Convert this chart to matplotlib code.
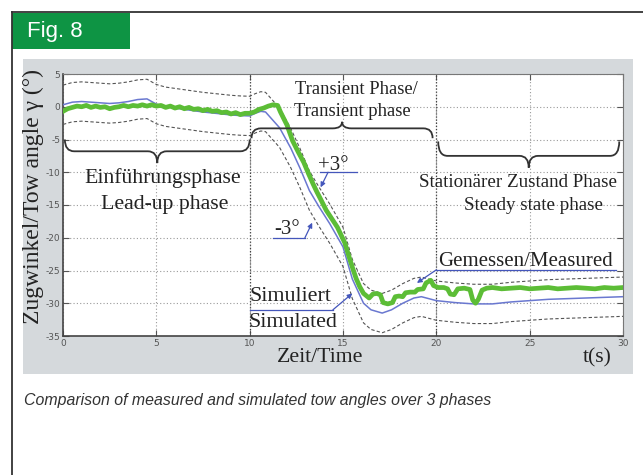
import matplotlib.pyplot as plt
import numpy as np
from matplotlib.patches import Rectangle, PathPatch
from matplotlib.path import Path
from matplotlib.lines import Line2D

plt.rcParams['axes.unicode_minus'] = False

# Simulated tow angle (blue)
sim_t = [0, 0.5, 1, 1.5, 2, 2.5, 3, 3.5, 4, 4.5, 5, 5.5, 6, 6.5, 7, 7.5, 8, 8.5, 9, 9.5,
         10, 10.3, 10.6, 10.85, 11.1, 11.6, 12.2, 12.7, 13.2, 13.7, 14.3, 15.0, 15.5, 16.1,
         16.5, 17.1, 17.6, 18.2, 18.8, 19.2, 19.6, 20, 21, 22, 23, 24, 25, 26, 27, 28, 29, 30]
sim_y = [0.3, 0.7, 0.8, 0.7, 0.6, 0.5, 0.6, 0.8, 1.1, 1.2, 0.4, 0.0, -0.2, -0.4, -0.6, -0.8,
         -0.95, -1.1, -1.25, -1.35, -1.4, -1.0, -0.7, -0.8, -1.6, -3.2, -6.3, -9.4, -12.8, -15.2,
         -17.9, -21.4, -26.3, -30.0, -31.0, -31.5, -31.0, -30.0, -29.2, -29.0, -29.3, -29.6,
         -29.9, -30.1, -30.1, -29.8, -29.6, -29.4, -29.3, -29.2, -29.1, -29.0]
tolerance = 3  # +/-3 degree band

# Measured tow angle (green)
meas_t = [0.0, 0.25, 0.5, 0.75, 1.0, 1.25, 1.5, 1.75, 2.0, 2.25, 2.5, 2.75, 3.0, 3.25, 3.5,
          3.75, 4.0, 4.25, 4.5, 4.75, 5.0, 5.25, 5.5, 5.75, 6.0, 6.25, 6.5, 6.75, 7.0, 7.25,
          7.5, 7.75, 8.0, 8.25, 8.5, 8.75, 9.0, 9.25, 9.5, 9.75, 10.0, 10.25, 10.5, 10.75,
          11.0, 11.25, 11.5, 11.65, 12.0, 12.3, 12.6, 12.9, 13.15, 13.4, 13.6, 13.8, 14.1,
          14.4, 14.7, 14.9, 15.1, 15.3, 15.5, 15.7, 15.9, 16.1, 16.4, 16.6, 16.8, 17.0, 17.15,
          17.4, 17.65, 17.8, 18.0, 18.2, 18.35, 18.6, 18.85, 19.0, 19.3, 19.45, 19.7, 19.85,
          20.1, 20.4, 20.6, 20.75, 20.95, 21.15, 21.5, 21.8, 21.95, 22.1, 22.25, 22.45, 22.7,
          23.0, 23.5, 24.0, 24.5, 25.0, 25.5, 26.0, 26.5, 27.0, 27.5, 28.0, 28.5, 29.0, 29.5, 30.0]
meas_y = [-0.7, -0.3, -0.1, 0.1, 0.0, 0.2, -0.1, 0.1, -0.1, 0.0, -0.3, -0.1, 0.0, 0.2, 0.0,
          0.2, 0.1, 0.3, 0.1, 0.3, 0.1, 0.2, -0.1, 0.1, -0.2, 0.0, -0.3, -0.1, -0.4, -0.3,
          -0.6, -0.4, -0.7, -0.6, -0.9, -0.8, -1.1, -0.9, -1.2, -1.0, -1.0, -0.8, -0.4, -0.2,
          0.1, 0.3, 0.2, -0.8, -2.8, -5.2, -6.9, -8.5, -10.2, -11.8, -13.0, -14.1, -15.8,
          -17.1, -18.4, -19.6, -20.8, -22.7, -24.5, -26.2, -27.5, -28.5, -29.2, -28.6, -28.5,
          -28.7, -29.9, -30.1, -29.9, -29.0, -28.9, -29.0, -28.4, -28.3, -28.3, -27.9, -27.8,
          -26.9, -26.5, -27.3, -27.6, -27.6, -27.8, -28.6, -28.7, -27.8, -27.7, -27.9, -29.5,
          -30.0, -29.4, -28.0, -27.7, -27.6, -27.8, -27.7, -27.6, -27.8, -27.7, -27.6, -27.8,
          -27.7, -27.6, -27.7, -27.8, -27.6, -27.7, -27.6]

x_ticks = [0, 5, 10, 15, 20, 25, 30]
y_ticks = [5, 0, -5, -10, -15, -20, -25, -30, -35]

serif = 'Liberation Serif'
ink = '#222222'
lead_blue = '#4456bb'


def draw_brace(ax, x0, x1, y_end, y_mid, y_tip, r=0.5):
    # curly brace in data coords, tip in the middle
    xc = (x0 + x1) / 2
    verts = [(x0, y_end), (x0, y_mid), (x0 + r, y_mid),
             (xc - r, y_mid),
             (xc, y_mid), (xc, y_tip),
             (xc, y_mid), (xc + r, y_mid),
             (x1 - r, y_mid),
             (x1, y_mid), (x1, y_end)]
    codes = [Path.MOVETO, Path.CURVE3, Path.CURVE3, Path.LINETO,
             Path.CURVE3, Path.CURVE3, Path.CURVE3, Path.CURVE3,
             Path.LINETO, Path.CURVE3, Path.CURVE3]
    ax.add_patch(PathPatch(Path(verts, codes), facecolor='none',
                           edgecolor='#333333', lw=1.3, zorder=6))


def leader(ax, text_line, arrow_from, arrow_to):
    ax.plot(text_line[0], text_line[1], color=lead_blue, lw=0.9, zorder=7)
    ax.annotate('', xy=arrow_to, xytext=arrow_from,
                arrowprops=dict(arrowstyle='-|>', color=lead_blue, lw=0.9,
                                mutation_scale=7, shrinkA=0, shrinkB=0), zorder=7)


fig = plt.figure(figsize=(6.43, 4.75), dpi=100)

# outer frame and grey panel
fig.add_artist(Line2D([12 / 643, 1], [1 - 12 / 475] * 2, color='#333333', lw=1.3,
                      transform=fig.transFigure))
fig.add_artist(Line2D([12 / 643] * 2, [0, 1 - 12 / 475], color='#333333', lw=1.3,
                      transform=fig.transFigure))
fig.patches.append(Rectangle((23 / 643, 1 - 374 / 475), 610 / 643, 315 / 475,
                             transform=fig.transFigure, facecolor='#d5d9dc',
                             edgecolor='none', zorder=-2))
fig.patches.append(Rectangle((12 / 643, 1 - 49 / 475), 118 / 643, 36 / 475,
                             transform=fig.transFigure, facecolor='#0e9444',
                             edgecolor='none', zorder=-1))
fig.text(27 / 643, 1 - 31 / 475, 'Fig. 8', color='white', fontsize=16,
         family='Liberation Sans', va='center', ha='left')

ax = fig.add_axes([63 / 643, 1 - 336 / 475, 560 / 643, 262 / 475])
ax.set_zorder(3)
ax.set_facecolor('white')

sim_t = np.array(sim_t)
sim_y = np.array(sim_y)
ax.plot(sim_t, sim_y + tolerance, color='#555555', lw=0.8, dashes=(3, 2), zorder=3)
ax.plot(sim_t, sim_y - tolerance, color='#555555', lw=0.8, dashes=(3, 2), zorder=3)
ax.plot(sim_t, sim_y, color='#6a78d0', lw=1.1, zorder=4)
ax.plot(meas_t, meas_y, color='#5cbd36', lw=3.4, zorder=5, solid_joinstyle='round')

ax.set_xlim(0, 30)
ax.set_ylim(-35, 5)
ax.set_xticks(x_ticks)
ax.set_yticks(y_ticks)
ax.grid(True, color='#9a9a9a', linestyle=(0, (1, 2)), lw=0.8)
for xv in [10, 20]:
    ax.axvline(xv, color='#444444', linestyle=(0, (1, 1.5)), lw=0.9, zorder=2)
ax.tick_params(direction='in', length=4, top=True, right=True, labelsize=6.5,
               labelcolor='#555555', color='#555555', pad=2)
for side in ['top', 'right']:
    ax.spines[side].set_color('#777777')
    ax.spines[side].set_linewidth(0.8)
for side in ['left', 'bottom']:
    ax.spines[side].set_color('#444444')
    ax.spines[side].set_linewidth(1.2)

# phase braces and labels
draw_brace(ax, 0.1, 10, -5.0, -6.8, -8.6)
draw_brace(ax, 10.1, 19.8, -4.8, -3.3, -2.3)
draw_brace(ax, 20.1, 29.8, -5.3, -7.5, -9.3)

txt = dict(family=serif, color=ink, ha='center', va='center', zorder=8)
ax.text(15.7, 2.7, 'Transient Phase/', fontsize=13.4, **txt)
ax.text(15.5, -0.65, 'Transient phase', fontsize=13.4, **txt)
ax.text(5.36, -10.9, 'Einführungsphase', fontsize=15.7, **txt)
ax.text(5.46, -15.0, 'Lead-up phase', fontsize=15.7, **txt)
ax.text(24.4, -11.5, 'Stationärer Zustand Phase', fontsize=13.7, **txt)
ax.text(25.2, -15.0, 'Steady state phase', fontsize=13.7, **txt)
ax.text(24.8, -23.6, 'Gemessen/Measured', fontsize=15, **txt)
ax.text(12.2, -29.0, 'Simuliert', fontsize=15.8, **txt)
ax.text(12.3, -32.9, 'Simulated', fontsize=15.8, **txt)
ax.text(14.46, -8.9, '+3°', fontsize=15, **txt)
ax.text(12.0, -18.8, '-3°', fontsize=15, **txt)

# leaders with arrows
leader(ax, ([13.77, 15.75], [-10, -10]), (14.2, -10), (13.8, -12.3))
leader(ax, ([11.25, 12.96], [-20, -20]), (12.96, -20), (13.35, -17.7))
leader(ax, ([10.0, 14.46], [-31, -31]), (14.46, -31), (15.5, -28.5))
leader(ax, ([20.0, 29.6], [-24.9, -24.9]), (20.0, -24.9), (18.96, -26.9))

fig.text(33 / 643, 1 - 196 / 475, 'Zugwinkel/Tow angle γ (°)', rotation=90,
         family=serif, fontsize=17, color=ink, ha='center', va='center')
fig.text(320 / 643, 1 - 358 / 475, 'Zeit/Time', family=serif, fontsize=15.7,
         color=ink, ha='center', va='center')
fig.text(597 / 643, 1 - 358 / 475, 't(s)', family=serif, fontsize=15.7,
         color=ink, ha='center', va='center')

fig.text(24 / 643, 1 - 400 / 475,
         'Comparison of measured and simulated tow angles over 3 phases',
         family='Liberation Sans', style='italic', fontsize=11.4, color='#333333',
         ha='left', va='center')

fig.savefig('out.png', dpi=100)
